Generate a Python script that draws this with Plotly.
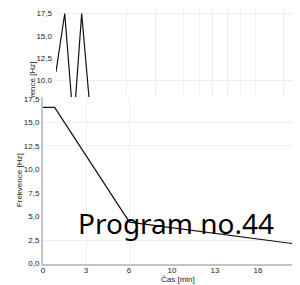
import plotly.graph_objects as go

W, H = 300, 285
OFF = 8  # page body margin of the browser

# ---------------- data ----------------
# upper (partly hidden) panel
top_t = [0.0, 0.68, 1.37, 2.0, 2.76]
top_f = [11.0, 17.5, 5.0, 17.5, 5.0]
top_grid_t = [5.53, 7.75, 9.97, 11.14, 12.17, 13.32, 14.41, 15.55, 17.76]
top_y_ticks = [10.0, 12.5, 15.0, 17.5]
top_y_grid = [10.0, 17.5]

# lower panel
bot_t = [0.0, 0.9, 6.7, 20.0]
bot_f = [16.6, 16.6, 4.4, 2.0]
bot_x_ticks = [0, 10 / 3, 20 / 3, 10, 40 / 3, 50 / 3, 20]
bot_x_labels = ["0", "3", "6", "10", "13", "16", "20"]
bot_y_ticks = [0.0, 2.5, 5.0, 7.5, 10.0, 12.5, 15.0, 17.5]
bot_x_grid = [10 / 3, 20 / 3]
bot_y_grid = [2.5, 12.5, 15.0]

y_title = "Frekvence [Hz]"
x_title = "Čas [min]"
label = "Program no.44"


def px(p):
    return (p - OFF) / W


def py(p):
    return 1 - (p - OFF) / H


TICK_FONT = dict(family="Liberation Sans Narrow, Arial", size=8, color="#222")
GRID = "#efefef"

fig = go.Figure()
# top panel
fig.add_trace(go.Scatter(x=top_t, y=top_f, mode="lines", line=dict(color="#111", width=1.2),
                         xaxis="x", yaxis="y", showlegend=False, hoverinfo="skip"))
# title holder for top panel
fig.add_trace(go.Scatter(x=[None], y=[None], xaxis="x", yaxis="y4", showlegend=False, hoverinfo="skip"))
# cover panel
fig.add_trace(go.Scatter(x=[None], y=[None], xaxis="x2", yaxis="y2", showlegend=False, hoverinfo="skip"))
# bottom panel
fig.add_trace(go.Scatter(x=bot_t, y=bot_f, mode="lines", line=dict(color="#111", width=1.2),
                         xaxis="x3", yaxis="y3", showlegend=False, hoverinfo="skip"))

top_rng = [-0.97, 18.11]

fig.update_layout(
    width=W, height=H, margin=dict(l=0, r=0, t=0, b=0, autoexpand=False),
    paper_bgcolor="white", plot_bgcolor="white",
    separators=",.",
    showlegend=False,
    xaxis=dict(domain=[px(56), 1], range=[0, 19.63], anchor="y", showticklabels=False, automargin=False,
               showgrid=False, zeroline=False, showline=False, ticks="",
               minor=dict(tickvals=top_grid_t, showgrid=True, gridcolor=GRID, gridwidth=1, ticks="")),
    yaxis=dict(domain=[py(179), 1], range=top_rng, anchor="x", tickvals=top_y_ticks, automargin=False,
               tickformat=".1f", tickfont=TICK_FONT, showgrid=False, zeroline=False, showline=False,
               ticks="", ticklabelstandoff=3,
               minor=dict(tickvals=top_y_grid, showgrid=True, gridcolor=GRID, gridwidth=1, ticks="")),
    yaxis4=dict(overlaying="y", anchor="free", position=px(37), side="left", range=top_rng,
                automargin=False,
                tickvals=[9.0], ticktext=[y_title], tickangle=-90, tickfont=TICK_FONT,
                showgrid=False, zeroline=False, showline=False, ticks=""),
    xaxis2=dict(domain=[0, 1], range=[0, 1], anchor="y2", visible=False, automargin=False),
    yaxis2=dict(domain=[0, py(97)], range=[0, 1], anchor="x2", visible=False, automargin=False),
    xaxis3=dict(domain=[px(43), 1], range=[0, 20.54], anchor="y3", tickvals=bot_x_ticks, automargin=False,
                ticktext=bot_x_labels, tickfont=TICK_FONT, showgrid=False, zeroline=False,
                showline=True, linecolor="#c4c4c4", linewidth=2, ticks="",
                ticklabeloverflow="allow", ticklabelstandoff=-2,
                minor=dict(tickvals=bot_x_grid, showgrid=True, gridcolor=GRID, gridwidth=1, ticks="")),
    yaxis3=dict(domain=[py(263.5), py(97)], range=[0, 17.71], anchor="x3", tickvals=bot_y_ticks,
                automargin=False,
                tickformat=".1f", tickfont=TICK_FONT, showgrid=False, zeroline=False,
                showline=True, linecolor="#c4c4c4", linewidth=2, ticks="",
                title=dict(text=y_title, font=TICK_FONT, standoff=0),
                minor=dict(tickvals=bot_y_grid, showgrid=True, gridcolor=GRID, gridwidth=1, ticks="")),
    annotations=[
        dict(text=x_title, xref="paper", yref="paper", x=px(178), y=py(279.5), showarrow=False,
             xanchor="center", yanchor="middle", font=TICK_FONT),
        dict(text=label, xref="paper", yref="paper", x=px(176), y=py(222.5), showarrow=False,
             xanchor="center", yanchor="middle",
             font=dict(family="Noto Sans", size=28, color="black")),
    ],
)

fig.write_html("out.html")
